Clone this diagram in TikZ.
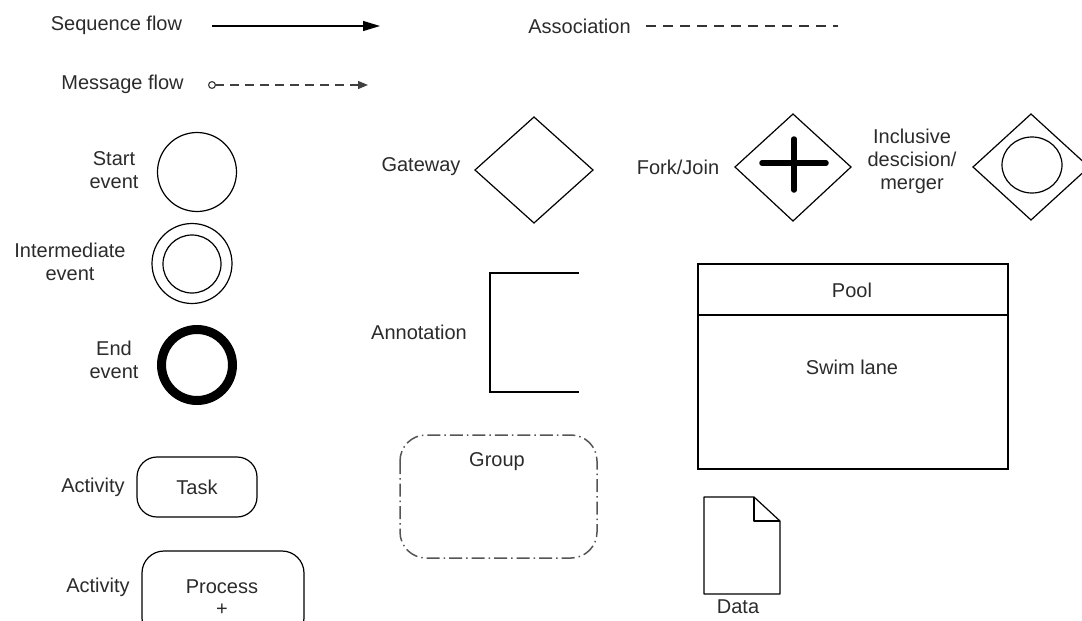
\documentclass[tikz,border=0pt]{standalone}
\usepackage{fontspec}
\setmainfont{Liberation Sans}
\usetikzlibrary{arrows.meta}
\definecolor{ink}{HTML}{2B2B2B}
\definecolor{grp}{HTML}{555555}
\begin{document}
\begin{tikzpicture}[x=1pt,y=-1pt,
  lbl/.style={text=ink,font=\fontsize{20}{24}\selectfont,align=center,inner sep=0pt},
  thin/.style={draw=black,line width=1.2pt},
  evt/.style={thin,circle,inner sep=0pt,minimum size=#1},
  gate/.style={thin,line join=miter}]
\useasboundingbox (0,0) rectangle (1082,621);

% --- connector legend
\node[lbl] (seqL) at (116.5,25) {Sequence flow};
\coordinate (seqA) at (212,26);
\coordinate (seqB) at (380,26);
\draw[line width=1.2pt,-{Triangle[length=17pt,width=10pt]}] (seqA) -- (seqB);

\node[lbl] (msgL) at (122.5,84) {Message flow};
\coordinate (msgA) at (208,85);
\coordinate (msgB) at (368,85);
\draw[line width=1.2pt,draw=black!75,dash pattern=on 9pt off 6pt,
  {Circle[open,length=8pt,width=8pt]}-{Triangle[length=10pt,width=8pt]}] (msgA) -- (msgB);

\node[lbl] (assL) at (579.5,26) {Association};
\coordinate (assA) at (646,26);
\coordinate (assB) at (838,26);
\draw[line width=1.2pt,draw=black!80,dash pattern=on 10pt off 7pt] (assA) -- (assB);

% --- events
\node[lbl] (startL) at (114,170) {Start\\[-1pt]event};
\node[evt=79pt] (start) at (197,172) {};

\node[lbl] (interL) at (70,262) {Intermediate\\[-1pt]event};
\node[evt=80pt] (inter) at (192,263.5) {};
\node[evt=58pt] (interIn) at (192,264) {};

\node[lbl] (endL) at (114,360) {End\\[-1pt]event};
\node[draw=black,line width=9pt,circle,inner sep=0pt,minimum size=71pt] (endE) at (197,365) {};

% --- gateways
\node[lbl] (gwL) at (421,167) {Gateway};
\draw[gate] (475,170) -- (534,117) -- (593,170) -- (534,223) -- cycle;

\node[lbl] (fjL) at (678,167) {Fork/Join};
\draw[gate] (735,167) -- (793,114) -- (851,167) -- (793,221) -- cycle;
\draw[line width=5.5pt,line cap=round] (762,163) -- (826,163);
\draw[line width=5.5pt,line cap=round] (794,139) -- (794,190);

\node[lbl] (incL) at (912,161) {Inclusive\\[-1pt]descision/\\[-1pt]merger};
\draw[gate] (973,167) -- (1031,114) -- (1089,167) -- (1031,220) -- cycle;
\draw[thin] (1032,165) ellipse [x radius=30, y radius=28];

% --- annotation
\node[lbl] (annL) at (419,332) {Annotation};
\draw[thin] (579,273) -- (490,273) -- (490,392) -- (579,392);

% --- pool / lane
\node[thin,minimum width=310pt,minimum height=205pt,inner sep=0pt] (pool) at (853,366.5) {};
\draw[thin] (698,315) -- (1008,315);
\node[lbl] (poolL) at (852,290) {Pool};
\node[lbl] (laneL) at (852,367) {Swim lane};

% --- group
\draw[draw=grp,line width=1.5pt,rounded corners=26pt,
  dash pattern=on 13pt off 4pt on 1.5pt off 4pt] (400,435) rectangle (597,558);
\node[lbl] (grpL) at (497,462) {Group};

% --- data object
\draw[thin,line join=round] (704,497) -- (754,497) -- (780,521) -- (780,594) -- (704,594) -- cycle;
\draw[thin,line join=round] (754,497) -- (754,521) -- (780,521);
\node[lbl] (dataL) at (738,607) {Data};

% --- activities
\node[lbl] (actL1) at (93,487) {Activity};
\node[thin,rounded corners=20pt,minimum width=120pt,minimum height=60pt] (task) at (197,487) {};
\node[lbl] (taskL) at (197,487) {Task};

\node[lbl] (actL2) at (98,587) {Activity};
\begin{scope}
  \clip (0,0) rectangle (1082,621);
  \draw[thin,rounded corners=22pt] (142,551) rectangle (304,640);
\end{scope}
\node[lbl] (procL) at (222,587) {Process};
\node[lbl] (plus) at (222,610) {+};
\end{tikzpicture}
\end{document}
